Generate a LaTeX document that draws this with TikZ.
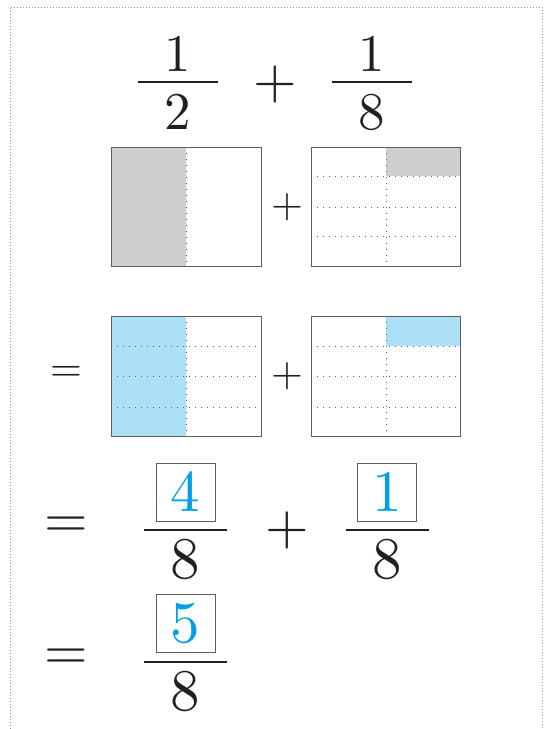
\documentclass[tikz,border=0pt]{standalone}
\usepackage{fontspec}
\setmainfont{lmroman10-regular.otf}
\definecolor{shadegray}{RGB}{206,207,209}
\definecolor{paleblue}{RGB}{172,224,246}
\definecolor{digitblue}{RGB}{0,160,228}
\definecolor{inkblack}{RGB}{35,31,32}
\definecolor{boxline}{RGB}{95,95,95}
\definecolor{frameline}{RGB}{150,150,150}
\begin{document}
\begin{tikzpicture}[x=1pt, y=-1pt, inkblack,
		num/.style={inner sep=0pt, font=\fontsize{53}{60}\selectfont},
		bignum/.style={inner sep=0pt, font=\fontsize{59}{66}\selectfont},
		answer/.style={draw=boxline, line width=0.9pt, minimum width=59pt, minimum height=58pt,
			inner sep=0pt, text=digitblue, font=\fontsize{59}{66}\selectfont},
		op/.style={inner sep=0pt, font=\fontsize{56}{60}\selectfont},
		smallop/.style={inner sep=0pt, font=\fontsize{41}{46}\selectfont},
		bar/.style={line width=1.8pt},
		grid/.style={draw=boxline, line width=0.8pt},
		sep/.style={draw=boxline, line width=0.8pt, dash pattern=on 0.9pt off 5.1pt}]

		\useasboundingbox (0,0) rectangle (544,729);
		\draw[frameline, line width=0.7pt, dash pattern=on 0.9pt off 2.1pt]
			(10,729) -- (10,7) -- (542,7) -- (542,729);

		% 1/2 + 1/8
		\node[num] (n1) at (178,54) {1};
		\node[num] (d1) at (178,112) {2};
		\node[num] (n2) at (372,54) {1};
		\node[num] (d2) at (372,112) {8};
		\node[op] (p1) at (275,84) {+};
		\draw[bar] (138,82) -- (218,82);
		\draw[bar] (332,82) -- (412,82);

		% halves and eighths, grey
		\fill[shadegray] (111,147) rectangle (186,266);
		\draw[sep] (186,147) -- (186,266);
		\draw[grid] (111,147) rectangle (261,266);
		\node[smallop] (p2) at (287,207) {+};
		\fill[shadegray] (386,147) rectangle (460,176);
		\draw[sep] (386,147) -- (386,266);
		\draw[sep] (311,176) -- (460,176);
		\draw[sep] (311,207) -- (460,207);
		\draw[sep] (311,236) -- (460,236);
		\draw[grid] (311,147) rectangle (460,266);

		% eighths, blue
		\node[smallop] (e1) at (66,374) {=};
		\fill[paleblue] (111,316) rectangle (186,436);
		\draw[sep] (186,316) -- (186,436);
		\draw[sep] (111,346) -- (261,346);
		\draw[sep] (111,376) -- (261,376);
		\draw[sep] (111,407) -- (261,407);
		\draw[grid] (111,316) rectangle (261,436);
		\node[smallop] (p3) at (287,376) {+};
		\fill[paleblue] (386,316) rectangle (460,346);
		\draw[sep] (386,316) -- (386,436);
		\draw[sep] (311,346) -- (460,346);
		\draw[sep] (311,376) -- (460,376);
		\draw[sep] (311,407) -- (460,407);
		\draw[grid] (311,316) rectangle (460,436);

		% 4/8 + 1/8
		\node[op] (e2) at (66,527) {=};
		\node[answer] (a1) at (185.5,492) {4};
		\node[bignum] (d3) at (185.5,559) {8};
		\draw[bar] (144,530) -- (227,530);
		\node[op] (p4) at (287,530) {+};
		\node[answer] (a2) at (387,492) {1};
		\node[bignum] (d4) at (387,559) {8};
		\draw[bar] (346,530) -- (429,530);

		% 5/8
		\node[op] (e3) at (66,659) {=};
		\node[answer] (a3) at (185.5,623.5) {5};
		\node[bignum] (d5) at (185.5,691) {8};
		\draw[bar] (144,662) -- (227,662);
	\end{tikzpicture}
\end{document}
